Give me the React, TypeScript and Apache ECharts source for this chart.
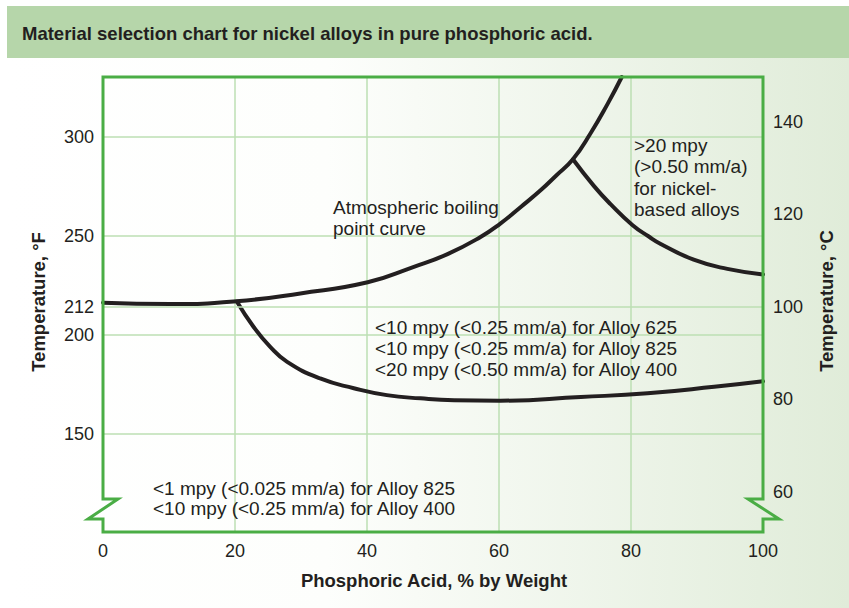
import React, { useEffect, useRef } from "react";
import * as echarts from "echarts";

// ---- data ----
const xTickValues = [0, 20, 40, 60, 80, 100];
const xGridValues = [20, 40, 60, 80];
const fahrenheitTicks = [150, 200, 250, 300];
const celsiusTicks = [60, 80, 100, 120, 140];
const boilingMarkC = 100; // 212 °F line = 100 °C
const boilingMarkLabel = "212";

// Atmospheric boiling point curve (°C)
const boilingX = [0, 10.2, 20.2, 29.9, 40.1, 47, 52.2, 57.2, 60.2, 63.3, 66.3, 68.6, 71.2, 73.9, 76.5, 78.6];
const boilingC = [100.9, 100.6, 101.2, 102.9, 105.3, 108.6, 111.4, 115.1, 118, 121.6, 125.2, 128.3, 131.9, 137.6, 144, 149.7];

// >20 mpy boundary (°C)
const upperX = [71.2, 74.4, 76.9, 80.2, 82.7, 84.5, 89.5, 94.6, 100];
const upperC = [131.9, 126.1, 122.2, 117.7, 115.2, 113.6, 110.2, 108.2, 107.0];

// <10 / <20 mpy lower boundary (°C)
const lowerX = [20.3, 22.8, 25.3, 27.9, 32.9, 38, 43, 48.1, 53.2, 60.2, 72.4, 82.5, 92.6, 100];
const lowerC = [101.1, 95.7, 91.4, 88.1, 84.5, 82.4, 80.9, 80.2, 79.8, 79.7, 80.5, 81.3, 82.7, 83.9];

const TEXT = "#231f20";
const GRID = "#bddfb3";
const BORDER = "#4aad45";
const FONT = '"Liberation Sans", Arial, Helvetica, sans-serif';

export default function App() {
  const ref = useRef<HTMLDivElement>(null);

  useEffect(() => {
    if (!ref.current) return;
    const chart = echarts.init(ref.current, undefined, { renderer: "svg" });

    const pairs = (xs: number[], ys: number[]) => xs.map((x, i) => [x, ys[i]]);
    const curveStyle = { color: TEXT, width: 4, cap: "round" as const };

    const option: any = {
      animation: false,
      backgroundColor: "#ffffff",
      grid: { left: 103, right: 86, top: 77, bottom: 76, containLabel: false },
      xAxis: {
        type: "value",
        min: 0,
        max: 100,
        axisLine: { show: false },
        axisTick: { show: false, customValues: xGridValues },
        axisLabel: {
          customValues: xTickValues,
          color: TEXT,
          fontSize: 18,
          fontFamily: FONT,
          margin: 10,
        },
        splitLine: { show: true, lineStyle: { color: GRID, width: 1.5 } },
      },
      yAxis: [
        {
          type: "value",
          min: 100.5,
          max: 330.1,
          position: "left",
          axisLine: { show: false },
          axisTick: { show: false, customValues: fahrenheitTicks },
          axisLabel: {
            customValues: fahrenheitTicks,
            color: TEXT,
            fontSize: 18,
            fontFamily: FONT,
            margin: 9,
          },
          splitLine: { show: true, lineStyle: { color: GRID, width: 1.5 } },
        },
        {
          type: "value",
          min: 51.3,
          max: 149.7,
          position: "right",
          axisLine: { show: false },
          axisTick: { show: false, customValues: celsiusTicks },
          axisLabel: {
            customValues: celsiusTicks,
            color: TEXT,
            fontSize: 18,
            fontFamily: FONT,
            margin: 10,
          },
          splitLine: { show: false },
        },
      ],
      series: [
        {
          type: "line",
          yAxisIndex: 1,
          data: [[0, boilingMarkC]],
          showSymbol: false,
          symbol: "none",
          lineStyle: { opacity: 0 },
          silent: true,
          z: 1,
          markLine: {
            silent: true,
            symbol: ["none", "none"],
            lineStyle: { color: GRID, width: 1.5, type: "solid" },
            label: {
              position: "start",
              formatter: boilingMarkLabel,
              color: TEXT,
              fontSize: 18,
              fontFamily: FONT,
              distance: 9,
            },
            data: [{ yAxis: boilingMarkC }],
          },
        },
        {
          name: "Atmospheric boiling point curve",
          type: "line",
          yAxisIndex: 1,
          data: pairs(boilingX, boilingC),
          smooth: 0.5,
          showSymbol: false,
          symbol: "none",
          lineStyle: curveStyle,
          z: 3,
        },
        {
          name: ">20 mpy boundary",
          type: "line",
          yAxisIndex: 1,
          data: pairs(upperX, upperC),
          smooth: 0.5,
          showSymbol: false,
          symbol: "none",
          lineStyle: curveStyle,
          z: 3,
        },
        {
          name: "<10 mpy boundary",
          type: "line",
          yAxisIndex: 1,
          data: pairs(lowerX, lowerC),
          smooth: 0.5,
          showSymbol: false,
          symbol: "none",
          lineStyle: curveStyle,
          z: 3,
        },
        {
          type: "custom",
          coordinateSystem: "cartesian2d",
          yAxisIndex: 0,
          clip: false,
          silent: true,
          z: 5,
          data: [[50, 200]],
          renderItem: (params: any) => {
            const cs = params.coordSys;
            const l = cs.x;
            const t = cs.y;
            const r = cs.x + cs.width;
            const b = cs.y + cs.height;
            const b1 = b - 33;
            const b2 = b - 13;
            return {
              type: "polygon",
              shape: {
                points: [
                  [l, t],
                  [l, b1],
                  [l + 15, b1],
                  [l - 15, b2],
                  [l, b2],
                  [l, b],
                  [r, b],
                  [r, b2],
                  [r + 16, b2],
                  [r - 15, b1],
                  [r, b1],
                  [r, t],
                ],
              },
              style: { stroke: BORDER, lineWidth: 3, fill: "none", lineJoin: "miter" },
            };
          },
        },
      ],
      graphic: [
        {
          type: "rect",
          z: -10,
          silent: true,
          shape: { x: 7, y: 58, width: 842, height: 550 },
          style: {
            fill: new echarts.graphic.LinearGradient(0, 0, 1, 0, [
              { offset: 0, color: "#ffffff" },
              { offset: 0.38, color: "#fdfefc" },
              { offset: 1, color: "#e0ecd9" },
            ]),
          },
        },
        {
          type: "rect",
          z: -9,
          silent: true,
          shape: { x: 7, y: 6, width: 842, height: 52 },
          style: { fill: "#b6d6aa" },
        },
        {
          type: "text",
          z: 10,
          x: 22,
          y: 33,
          style: {
            text: "Material selection chart for nickel alloys in pure phosphoric acid.",
            fill: TEXT,
            font: `bold 18.5px ${FONT}`,
            align: "left",
            verticalAlign: "middle",
          },
        },
        {
          type: "text",
          z: 10,
          x: 38,
          y: 302,
          rotation: Math.PI / 2,
          style: {
            text: "Temperature, °F",
            fill: TEXT,
            font: `bold 18.5px ${FONT}`,
            align: "center",
            verticalAlign: "middle",
          },
        },
        {
          type: "text",
          z: 10,
          x: 826,
          y: 301,
          rotation: Math.PI / 2,
          style: {
            text: "Temperature, °C",
            fill: TEXT,
            font: `bold 18.5px ${FONT}`,
            align: "center",
            verticalAlign: "middle",
          },
        },
        {
          type: "text",
          z: 10,
          x: 434,
          y: 580,
          style: {
            text: "Phosphoric Acid, % by Weight",
            fill: TEXT,
            font: `bold 18.5px ${FONT}`,
            align: "center",
            verticalAlign: "middle",
          },
        },
        {
          type: "text",
          z: 10,
          x: 333,
          y: 197,
          style: {
            text: "Atmospheric boiling\npoint curve",
            fill: TEXT,
            font: `19px ${FONT}`,
            lineHeight: 21,
            align: "left",
            verticalAlign: "top",
          },
        },
        {
          type: "text",
          z: 10,
          x: 634,
          y: 135,
          style: {
            text: ">20 mpy\n(>0.50 mm/a)\nfor nickel-\nbased alloys",
            fill: TEXT,
            font: `19px ${FONT}`,
            lineHeight: 21.3,
            align: "left",
            verticalAlign: "top",
          },
        },
        {
          type: "text",
          z: 10,
          x: 375,
          y: 317,
          style: {
            text:
              "<10 mpy (<0.25 mm/a) for Alloy 625\n<10 mpy (<0.25 mm/a) for Alloy 825\n<20 mpy (<0.50 mm/a) for Alloy 400",
            fill: TEXT,
            font: `19px ${FONT}`,
            lineHeight: 21,
            align: "left",
            verticalAlign: "top",
          },
        },
        {
          type: "text",
          z: 10,
          x: 153,
          y: 478,
          style: {
            text: "<1 mpy (<0.025 mm/a) for Alloy 825\n<10 mpy (<0.25 mm/a) for Alloy 400",
            fill: TEXT,
            font: `19px ${FONT}`,
            lineHeight: 20,
            align: "left",
            verticalAlign: "top",
          },
        },
      ],
    };

    chart.setOption(option);
    return () => chart.dispose();
  }, []);

  return (
    <div
      ref={ref}
      style={{ position: "fixed", left: 0, top: 0, width: 849, height: 608 }}
    />
  );
}
